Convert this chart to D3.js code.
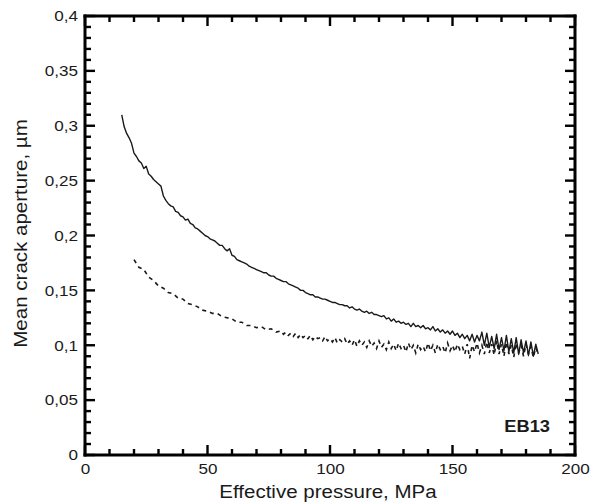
<!DOCTYPE html>
<html>
<head>
<meta charset="utf-8">
<script src="https://cdn.jsdelivr.net/npm/d3@7"></script>
<style>
  body { margin: 0; background: #fff; }
  svg { display: block; }
  text { font-family: "Liberation Sans", Arial, sans-serif; fill: #231f20; }
</style>
</head>
<body>
<svg id="chart" width="599" height="504"></svg>
<script>
// axis ticks
const xTicks = [0, 50, 100, 150, 200];
const xMinor = [10, 20, 30, 40, 60, 70, 80, 90, 110, 120, 130, 140, 160, 170, 180, 190];
const yTicks = [0, 0.05, 0.1, 0.15, 0.2, 0.25, 0.3, 0.35, 0.4];
const yTickLabels = ["0", "0,05", "0,1", "0,15", "0,2", "0,25", "0,3", "0,35", "0,4"];
const yMinor = [0.01, 0.02, 0.03, 0.04, 0.06, 0.07, 0.08, 0.09, 0.11, 0.12, 0.13, 0.14, 0.16, 0.17, 0.18, 0.19,
  0.21, 0.22, 0.23, 0.24, 0.26, 0.27, 0.28, 0.29, 0.31, 0.32, 0.33, 0.34, 0.36, 0.37, 0.38, 0.39];

// solid curve: effective pressure (MPa) / mean crack aperture (um)
const solidP = [15, 16, 17, 18, 19, 20, 21, 22, 23, 24, 25, 26, 27, 28, 29, 30, 31, 32, 33, 34, 35, 36, 37, 38, 39,
  40, 41, 42, 43, 44, 45, 46, 47, 48, 49, 50, 51, 52, 53, 54, 55, 56, 57, 58, 59, 60, 61, 62, 63, 64, 65, 66, 67,
  68, 69, 70, 71, 72, 73, 74, 75, 76, 77, 78, 79, 80, 81, 82, 83, 84, 85, 86, 87, 88, 89, 90, 91, 92, 93, 94, 95,
  96, 97, 98, 99, 100, 101, 102, 103, 104, 105, 106, 107, 108, 109, 110, 111, 112, 113, 114, 115, 116, 117, 118,
  119, 120, 121, 122, 123, 124, 125, 126, 127, 128, 129, 130, 131, 132, 133, 134, 135, 136, 137, 138, 139, 140,
  141, 142, 143, 144, 145, 146, 147, 148, 149, 150, 151, 152, 153, 154, 155, 156, 157, 158, 159, 160, 161, 162,
  163, 164, 165, 166, 167, 168, 169, 170, 171, 172, 173, 174, 175, 176, 177, 178, 179, 180, 181, 182, 183, 184, 185];
const solidA = [0.310, 0.299, 0.293, 0.289, 0.284, 0.275, 0.272, 0.268, 0.266, 0.261, 0.263, 0.256, 0.254, 0.251,
  0.249, 0.247, 0.245, 0.236, 0.232, 0.229, 0.227, 0.226, 0.222, 0.221, 0.218, 0.217, 0.214, 0.215, 0.211, 0.210,
  0.207, 0.206, 0.204, 0.202, 0.200, 0.199, 0.197, 0.196, 0.195, 0.193, 0.191, 0.191, 0.188, 0.186, 0.188, 0.182,
  0.181, 0.178, 0.177, 0.176, 0.175, 0.174, 0.172, 0.171, 0.170, 0.169, 0.168, 0.167, 0.166, 0.166, 0.164, 0.163,
  0.163, 0.161, 0.160, 0.159, 0.158, 0.158, 0.156, 0.155, 0.154, 0.153, 0.152, 0.150, 0.150, 0.148, 0.147, 0.146,
  0.146, 0.144, 0.144, 0.143, 0.142, 0.142, 0.141, 0.140, 0.139, 0.139, 0.138, 0.137, 0.137, 0.136, 0.136, 0.134,
  0.135, 0.133, 0.132, 0.133, 0.131, 0.130, 0.131, 0.129, 0.130, 0.128, 0.128, 0.127, 0.126, 0.127, 0.124, 0.125,
  0.122, 0.124, 0.121, 0.122, 0.120, 0.121, 0.119, 0.120, 0.117, 0.120, 0.117, 0.118, 0.116, 0.118, 0.115, 0.116,
  0.114, 0.117, 0.113, 0.115, 0.112, 0.114, 0.111, 0.113, 0.110, 0.113, 0.109, 0.111, 0.107, 0.110, 0.106, 0.109,
  0.104, 0.110, 0.103, 0.109, 0.104, 0.112, 0.100, 0.111, 0.098, 0.108, 0.097, 0.110, 0.096, 0.107, 0.095, 0.109,
  0.094, 0.106, 0.093, 0.107, 0.092, 0.105, 0.093, 0.104, 0.091, 0.103, 0.090, 0.101, 0.092];

// dashed curve
const dashedP = [20, 22, 24, 26, 28, 30, 32, 34, 36, 38, 40, 42, 44, 46, 48, 50, 52, 54, 56, 58, 60, 62, 64, 66, 68,
  70, 72, 74, 76, 78, 80, 81, 82, 83, 84, 85, 86, 87, 88, 89, 90, 91, 92, 93, 94, 95, 96, 97, 98, 99, 100, 101, 102,
  103, 104, 105, 106, 107, 108, 109, 110, 111, 112, 113, 114, 115, 116, 117, 118, 119, 120, 121, 122, 123, 124,
  125, 126, 127, 128, 129, 130, 131, 132, 133, 134, 135, 136, 137, 138, 139, 140, 141, 142, 143, 144, 145, 146,
  147, 148, 149, 150, 151, 152, 153, 154, 155, 156, 157, 158, 159, 160, 161, 162, 163, 164, 165, 166, 167, 168,
  169, 170, 171, 172, 173, 174, 175, 176, 177, 178, 179, 180, 181, 182, 183, 184, 185];
const dashedA = [0.178, 0.171, 0.169, 0.162, 0.159, 0.154, 0.152, 0.148, 0.147, 0.143, 0.142, 0.138, 0.137, 0.135,
  0.132, 0.131, 0.129, 0.129, 0.126, 0.125, 0.124, 0.121, 0.121, 0.118, 0.118, 0.116, 0.117, 0.114, 0.115, 0.112,
  0.113, 0.110, 0.112, 0.109, 0.111, 0.108, 0.111, 0.107, 0.110, 0.107, 0.109, 0.106, 0.109, 0.105, 0.108, 0.106,
  0.107, 0.104, 0.108, 0.104, 0.106, 0.103, 0.107, 0.102, 0.105, 0.103, 0.106, 0.101, 0.104, 0.100, 0.105, 0.099,
  0.104, 0.100, 0.103, 0.098, 0.104, 0.099, 0.102, 0.097, 0.104, 0.098, 0.101, 0.096, 0.103, 0.097, 0.101, 0.095,
  0.102, 0.097, 0.100, 0.094, 0.102, 0.096, 0.100, 0.093, 0.101, 0.096, 0.099, 0.094, 0.102, 0.095, 0.100, 0.093,
  0.101, 0.096, 0.099, 0.093, 0.102, 0.095, 0.100, 0.094, 0.101, 0.096, 0.099, 0.092, 0.101, 0.088, 0.100, 0.094,
  0.102, 0.093, 0.100, 0.092, 0.103, 0.093, 0.101, 0.091, 0.104, 0.092, 0.101, 0.090, 0.103, 0.092, 0.100, 0.089,
  0.102, 0.093, 0.100, 0.090, 0.101, 0.092, 0.099, 0.089, 0.098, 0.091];

const ink = "#1a1a1a";
const svg = d3.select("#chart");

const x = d3.scaleLinear().domain([0, 200]).range([85, 575]);
const y = d3.scaleLinear().domain([0, 0.4]).range([455, 16]);

// curves
const line = d3.line().x((d) => x(d[0])).y((d) => y(d[1]));
const solidData = solidP.map((p, i) => [p, solidA[i]]);
const dashedData = dashedP.map((p, i) => [p, dashedA[i]]);

svg.append("path")
  .datum(solidData)
  .style("fill", "none")
  .style("stroke", ink)
  .style("stroke-width", "1.4px")
  .style("stroke-linejoin", "round")
  .attr("d", line);

svg.append("path")
  .datum(dashedData)
  .style("fill", "none")
  .style("stroke", ink)
  .style("stroke-width", "1.6px")
  .style("stroke-dasharray", "4 4")
  .attr("d", line);

// frame and inward ticks drawn as filled bars
const bars = svg.append("g").style("fill", "#000");
const lw = 3;
const tw = 2.4;
bars.append("rect").attr("x", x(0) - lw / 2).attr("y", y(0.4) - lw / 2)
  .attr("width", x(200) - x(0) + lw).attr("height", lw);
bars.append("rect").attr("x", x(0) - lw / 2).attr("y", y(0) - lw / 2)
  .attr("width", x(200) - x(0) + lw).attr("height", lw);
bars.append("rect").attr("x", x(0) - lw / 2).attr("y", y(0.4) - lw / 2)
  .attr("width", lw).attr("height", y(0) - y(0.4) + lw);
bars.append("rect").attr("x", x(200) - lw / 2).attr("y", y(0.4) - lw / 2)
  .attr("width", lw).attr("height", y(0) - y(0.4) + lw);

function addTicks(values, len, horizontal) {
  values.forEach((v) => {
    if (horizontal) {
      bars.append("rect").attr("x", x(v) - tw / 2).attr("y", y(0) - len).attr("width", tw).attr("height", len);
      bars.append("rect").attr("x", x(v) - tw / 2).attr("y", y(0.4)).attr("width", tw).attr("height", len);
    } else {
      bars.append("rect").attr("x", x(0)).attr("y", y(v) - tw / 2).attr("width", len).attr("height", tw);
      bars.append("rect").attr("x", x(200) - len).attr("y", y(v) - tw / 2).attr("width", len).attr("height", tw);
    }
  });
}
addTicks(xTicks, 10, true);
addTicks(xMinor, 6, true);
addTicks(yTicks, 10, false);
addTicks(yMinor, 6, false);

// tick labels through the library axes
const xAxis = svg.append("g").attr("transform", `translate(0,${y(0)})`)
  .call(d3.axisBottom(x).tickValues(xTicks).tickSize(0).tickPadding(8));
const yAxis = svg.append("g").attr("transform", `translate(${x(0)},0)`)
  .call(d3.axisLeft(y).tickValues(yTicks).tickSize(0).tickPadding(7)
    .tickFormat((d, i) => yTickLabels[i]));
[xAxis, yAxis].forEach((g) => {
  g.select(".domain").remove();
  g.selectAll("line").remove();
  g.selectAll("text").attr("font-size", "15px").style("fill", ink).attr("class", "stretch");
});

// titles
svg.append("text")
  .attr("class", "stretch")
  .attr("x", (x(0) + x(200)) / 2 - 2)
  .attr("y", 498)
  .attr("text-anchor", "middle")
  .attr("font-size", "18px")
  .style("fill", ink)
  .text("Effective pressure, MPa");

svg.append("text")
  .attr("class", "stretch")
  .attr("transform", `translate(27,${(y(0) + y(0.4)) / 2 - 2}) rotate(-90)`)
  .attr("text-anchor", "middle")
  .attr("font-size", "18px")
  .style("fill", ink)
  .text("Mean crack aperture, \u00b5m");

svg.append("text")
  .attr("class", "stretch")
  .attr("x", 550)
  .attr("y", 432)
  .attr("text-anchor", "end")
  .attr("font-size", "16px")
  .attr("font-weight", "bold")
  .style("fill", ink)
  .text("EB13");

// the original lettering is a little wider than Liberation Sans
svg.selectAll("text.stretch").each(function () {
  const w = this.getComputedTextLength();
  d3.select(this).attr("textLength", w * 1.14).attr("lengthAdjust", "spacingAndGlyphs");
});
</script>
</body>
</html>
